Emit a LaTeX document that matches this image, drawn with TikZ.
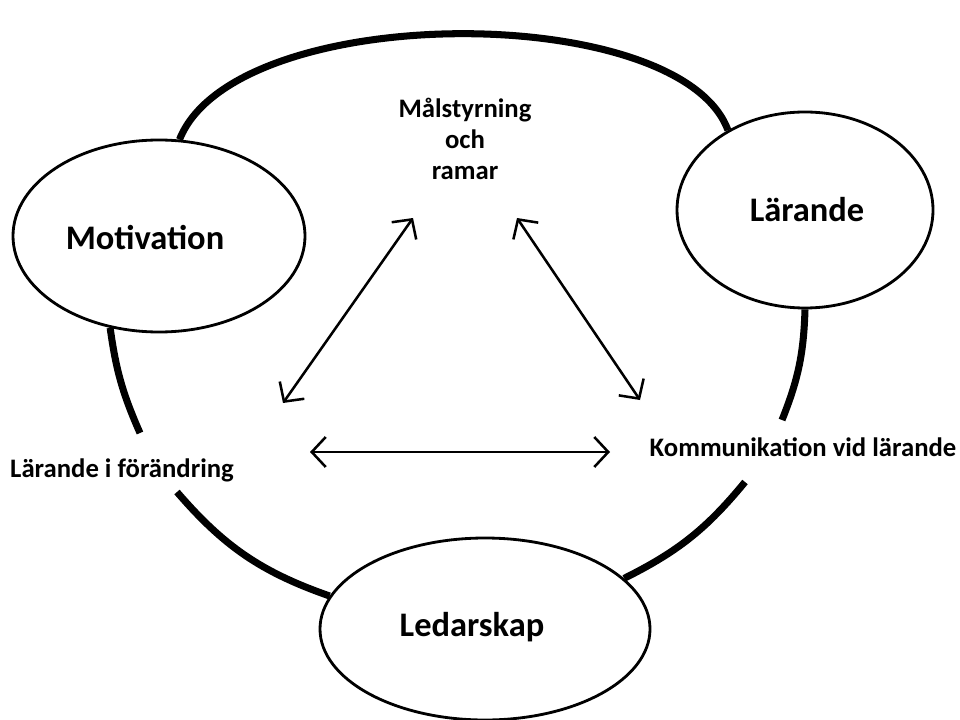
\documentclass[tikz,border=0pt]{standalone}
\usepackage{fontspec}
\setmainfont{Carlito}
\usepackage{tikz}
\usetikzlibrary{arrows.meta}
\usetikzlibrary{shapes.geometric}

\begin{document}
\begin{tikzpicture}[>={Straight Barb[length=3.5mm,width=7.5mm]},
  blob/.style={draw, ellipse, line width=2pt, inner sep=0pt},
  big/.style={font=\fontsize{24.5}{29}\selectfont\bfseries},
  small/.style={font=\fontsize{19}{22}\selectfont\bfseries, align=center},
  rim/.style={line width=5pt},
  link/.style={line width=1.8pt, <->}]
\useasboundingbox (0,0) rectangle (24,17.975);

% the three ellipses
\node[blob, minimum width=7.3cm, minimum height=4.8cm] (mot) at (3.975,12.075) {};
\node[big] (motlbl) at (3.625,12.04) {Motivation};
\node[blob, minimum width=6.4cm, minimum height=4.9cm] (lar) at (20.125,12.725) {};
\node[big] (larlbl) at (20.175,12.725) {Lärande};
\node[blob, minimum width=8.25cm, minimum height=4.55cm] (led) at (12.125,2.25) {};
\node[big] (ledlbl) at (11.8,2.3) {Ledarskap};

% texts on the ring
\node[small] (mal) at (11.625,14.51) {Målstyrning\\och\\ramar};
\node[small] (lif) at (3.05,6.225) {Lärande i förändring};
\node[small] (kom) at (20.075,6.8) {Kommunikation vid lärande};

% ends of the broken ring
\coordinate (lu) at (3.5,7.15);
\coordinate (ll) at (4.425,5.675);
\coordinate (ru) at (19.55,7.475);
\coordinate (rl) at (18.625,5.925);

\draw[rim] (mot.78) .. controls (5.875,17.975) and (17.0,17.975) .. (lar.134);
\draw[rim] (mot.242) to[bend right=8] (lu);
\draw[rim] (ll) to[bend right=15] (led.168);
\draw[rim] (lar.270) to[bend left=10] (ru);
\draw[rim] (rl) to[bend left=12] (led.20);

% arrows between the texts
\coordinate (a1) at (7.075,7.9);
\coordinate (a2) at (10.325,12.525);
\coordinate (b1) at (12.925,12.525);
\coordinate (b2) at (16.0,7.975);
\coordinate (c1) at (7.75,6.675);
\coordinate (c2) at (15.25,6.675);
\draw[link] (a1) -- (a2);
\draw[link] (b1) -- (b2);
\draw[link] (c1) -- (c2);

\end{tikzpicture}
\end{document}
